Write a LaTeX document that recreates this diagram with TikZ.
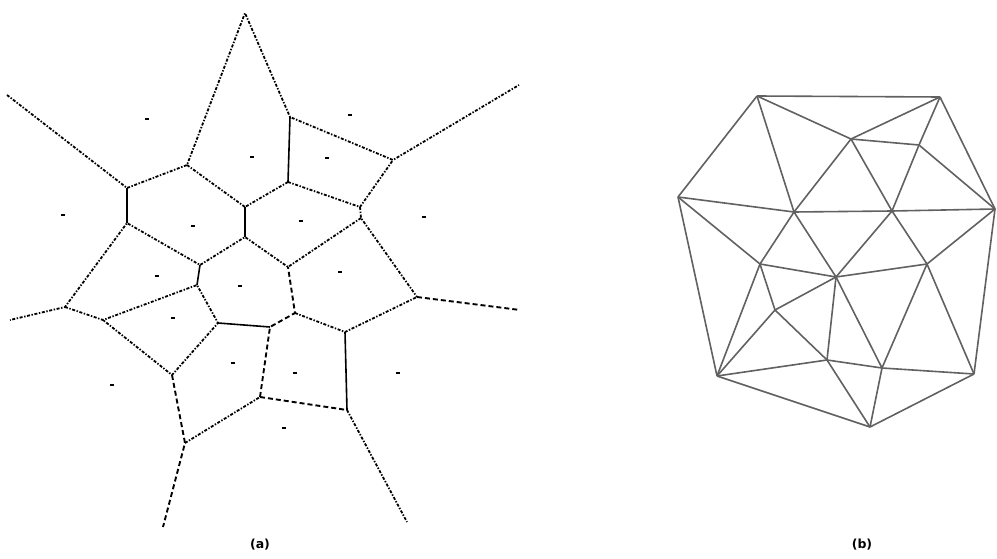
\documentclass[tikz,border=0pt]{standalone}
\usepackage{fontspec}
\setmainfont{DejaVu Sans}
\begin{document}
\begin{tikzpicture}[x=1pt,y=-1pt,
  vedge/.style={line width=1.8pt, dash pattern=on 3pt off 1.6pt on 1.4pt off 1.6pt},
  vsolid/.style={line width=1.6pt},
  vdash/.style={line width=1.9pt, dash pattern=on 5pt off 3pt},
  site/.style={rectangle, fill=black, inner sep=0pt, minimum width=3.2pt, minimum height=2.4pt},
  dedge/.style={line width=1.6pt, draw=black!62},
  lab/.style={font=\bfseries\fontsize{12.5}{14}\selectfont, inner sep=0pt}]
\useasboundingbox (0,0) rectangle (997,559);
% ---------- (a) Voronoi diagram ----------
\coordinate (T) at (245,13);
\coordinate (R1) at (7,95);
\coordinate (R2) at (519,85);
\coordinate (R3) at (10,320);
\coordinate (R4) at (520,310);
\coordinate (R5) at (163,527);
\coordinate (R6) at (407,522);
\coordinate (V1) at (127,188);
\coordinate (V2) at (187,165);
\coordinate (V3) at (245,207);
\coordinate (V4) at (245,237);
\coordinate (V5) at (127,223);
\coordinate (V6) at (200,265);
\coordinate (V7) at (290,117);
\coordinate (V8) at (288,182);
\coordinate (V9) at (393,160);
\coordinate (V10) at (360,207);
\coordinate (V10b) at (361,218);
\coordinate (V12) at (288,267);
\coordinate (V13) at (197,285);
\coordinate (V14) at (65,307);
\coordinate (V15) at (103,320);
\coordinate (V16) at (218,323);
\coordinate (V17) at (270,327);
\coordinate (V18) at (172,375);
\coordinate (V19) at (185,443);
\coordinate (V20) at (260,397);
\coordinate (V21) at (295,313);
\coordinate (V22) at (345,332);
\coordinate (V23) at (417,297);
\coordinate (V24) at (347,410);

\draw[vedge] (R1) -- (V1) -- (V2) -- (T) -- (V7) -- (V9) -- (R2);
\draw[vsolid] (V1) -- (V5);
\draw[vedge] (V2) -- (V3);
\draw[vsolid] (V3) -- (V4);
\draw[vsolid] (V7) -- (V8);
\draw[vedge] (V8) -- (V3);
\draw[vedge] (V8) -- (V10) -- (V9);
\draw[vedge] (V10) -- (V10b) -- (V23);
\draw[vedge] (V10b) -- (V12) -- (V4) -- (V6) -- (V5) -- (V14) -- (R3);
\draw[vsolid] (V6) -- (V13);
\draw[vedge] (V14) -- (V15) -- (V13) -- (V16) -- (V18) -- (V15);
\draw[vsolid] (V16) -- (V17);
\draw[vdash] (V18) -- (V19) -- (R5);
\draw[vedge] (V19) -- (V20);
\draw[vdash] (V20) -- (V17) -- (V21) -- (V12);
\draw[vedge] (V21) -- (V22) -- (V23);
\draw[vsolid] (V22) -- (V24);
\draw[vdash] (V20) -- (V24);
\draw[vedge] (V24) -- (R6);
\draw[vdash] (V23) -- (R4);

\foreach \i/\p in {1/{(147,119)},2/{(350,115)},3/{(252,157)},4/{(327,158)},5/{(63,215)},
  6/{(193,226)},7/{(301,221)},8/{(424,217)},9/{(157,276)},10/{(240,286)},11/{(340,272)},
  12/{(173,318)},13/{(233,363)},14/{(295,373)},15/{(398,373)},16/{(112,385)},17/{(284,428)}}
  \node[site] (s\i) at \p {};

% ---------- (b) Delaunay triangulation ----------
\coordinate (A) at (757,96);
\coordinate (B) at (940,97);
\coordinate (C) at (851,139);
\coordinate (D) at (919,145);
\coordinate (E) at (678,197);
\coordinate (F) at (794,212);
\coordinate (G) at (892,211);
\coordinate (H) at (995,209);
\coordinate (I) at (760,264);
\coordinate (J) at (836,277);
\coordinate (K) at (927,264);
\coordinate (L) at (775,310);
\coordinate (M) at (827,360);
\coordinate (N) at (882,368);
\coordinate (O) at (717,376);
\coordinate (P) at (974,374);
\coordinate (Q) at (870,427);

\foreach \u/\v in {A/B,A/C,C/B,A/E,A/F,C/D,C/F,C/G,B/D,D/G,D/H,B/H,E/F,F/G,G/H,
  E/O,E/I,F/I,F/J,G/J,G/K,H/K,H/P,I/J,J/K,I/L,I/O,L/J,L/M,L/O,J/M,J/N,K/N,K/P,
  O/M,M/N,N/P,O/Q,M/Q,N/Q,P/Q}
  \draw[dedge] (\u) -- (\v);

% ---------- labels ----------
\node[lab] (la) at (260,545) {(a)};
\node[lab] (lb) at (862,545) {(b)};
\end{tikzpicture}
\end{document}
